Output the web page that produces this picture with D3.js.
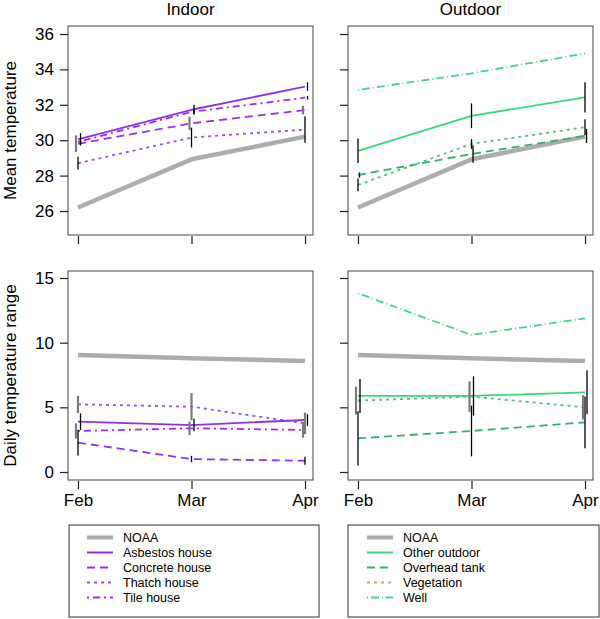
<!DOCTYPE html>
<html>
<head>
<meta charset="utf-8">
<script src="https://cdn.jsdelivr.net/npm/d3@7"></script>
<style>
  body { margin: 0; background: #fff; }
  svg { display: block; font-family: "Liberation Sans", Arial, Helvetica, sans-serif; }
</style>
</head>
<body>
<svg id="chart" width="600" height="619"></svg>
<script>
// ---------------- DATA ----------------
const months = ["Feb", "Mar", "Apr"];
const meanTicks = [26, 28, 30, 32, 34, 36];
const rangeTicks = [0, 5, 10, 15];

const indoorNames = ["NOAA", "Asbestos house", "Concrete house", "Thatch house", "Tile house"];
const outdoorNames = ["NOAA", "Other outdoor", "Overhead tank", "Vegetation", "Well"];

// Mean temperature
const meanNOAA = [26.2, 28.92, 30.2];
const meanAsbestos = [30.05, 31.72, 33.03];
const meanConcrete = [29.8, 30.95, 31.7];
const meanThatch = [28.7, 30.15, 30.6];
const meanTile = [29.9, 31.6, 32.4];
const meanOther = [29.4, 31.38, 32.42];
const meanTank = [28.03, 29.22, 30.24];
const meanVeg = [27.47, 29.79, 30.73];
const meanWell = [32.84, 33.78, 34.9];

// Mean temperature error half-widths
const meanErrAsbestos = [0.35, 0.28, 0.24];
const meanErrConcrete = [0.47, 0.38, 0.24];
const meanErrThatch = [0.36, 0.56, 0.75];
const meanErrTile = [0.1, 0.1, 0.1];
const meanErrOther = [0.69, 0.7, 0.85];
const meanErrTank = [0.15, 0.5, 0.4];
const meanErrVeg = [0.36, 0.28, 0.45];

// Daily temperature range
const rangeNOAA = [9.05, 8.79, 8.58];
const rangeAsbestos = [3.89, 3.63, 4.02];
const rangeConcrete = [2.27, 1.0, 0.87];
const rangeThatch = [5.23, 5.05, 3.76];
const rangeTile = [3.17, 3.38, 3.25];
const rangeOther = [5.88, 5.88, 6.16];
const rangeTank = [2.6, 3.17, 3.84];
const rangeVeg = [5.52, 5.83, 5.0];
const rangeWell = [13.82, 10.6, 11.88];

// Daily range error half-widths
const rangeErrAsbestos = [0.64, 0.48, 0.45];
const rangeErrConcrete = [1.0, 0.25, 0.3];
const rangeErrThatch = [0.67, 1.06, 0.84];
const rangeErrTile = [0.59, 0.52, 0.6];
const rangeErrOther = [1.31, 1.52, 1.7];
const rangeErrTank = [2.1, 1.96, 2.0];
const rangeErrVeg = [1.08, 1.18, 0.94];

// ---------------- STYLES ----------------
const styleOf = {
  "NOAA":           { color: "#adadad", width: 4.5, dash: null },
  "Asbestos house": { color: "#9030ee", width: 1.8, dash: null },
  "Concrete house": { color: "#9a2ff5", width: 1.8, dash: "8,5" },
  "Thatch house":   { color: "#9650f5", width: 1.8, dash: "3,4" },
  "Tile house":     { color: "#a826f5", width: 1.8, dash: "2,4,7,4" },
  "Other outdoor":  { color: "#3bd873", width: 1.8, dash: null },
  "Overhead tank":  { color: "#2fb46a", width: 1.8, dash: "8,5" },
  "Vegetation":     { color: "#4cc47e", width: 1.8, dash: "3,4" },
  "Well":           { color: "#44d686", width: 1.8, dash: "1,3,8,3" }
};
const legendColor = Object.assign({}, Object.fromEntries(Object.entries(styleOf).map(([k, v]) => [k, v.color])), { "Vegetation": "#c4a878" });

const errBlack = { color: "#000", width: 1.3 };
const errGrey = { color: "#7a7a7a", width: 2.2 };

const fontStack = '"Liberation Sans", Arial, Helvetica, sans-serif';

// ---------------- PANELS ----------------
const panels = [
  { x0: 68, x1: 313, y0: 26, y1: 235, xr: [78, 305], dom: [26, 36], rng: [211, 34], ticks: meanTicks, labels: true, xlabels: false,
    series: [
      { name: "NOAA", v: meanNOAA },
      { name: "Thatch house", v: meanThatch, e: meanErrThatch, es: errBlack, off: 0 },
      { name: "Concrete house", v: meanConcrete, e: meanErrConcrete, es: errGrey, off: -2 },
      { name: "Tile house", v: meanTile, e: meanErrTile, es: errBlack, off: 2.5 },
      { name: "Asbestos house", v: meanAsbestos, e: meanErrAsbestos, es: errBlack, off: 2.5 }
    ] },
  { x0: 348, x1: 593, y0: 26, y1: 235, xr: [358, 585], dom: [26, 36], rng: [211, 34], ticks: meanTicks, labels: false, xlabels: false,
    series: [
      { name: "NOAA", v: meanNOAA },
      { name: "Vegetation", v: meanVeg, e: meanErrVeg, es: errBlack, off: 0 },
      { name: "Overhead tank", v: meanTank, e: meanErrTank, es: errBlack, off: 1.5 },
      { name: "Other outdoor", v: meanOther, e: meanErrOther, es: errBlack, off: 0 },
      { name: "Well", v: meanWell }
    ] },
  { x0: 68, x1: 313, y0: 271, y1: 480, xr: [78, 305], dom: [0, 15], rng: [472, 278], ticks: rangeTicks, labels: true, xlabels: true,
    series: [
      { name: "NOAA", v: rangeNOAA },
      { name: "Concrete house", v: rangeConcrete, e: rangeErrConcrete, es: errBlack, off: 0 },
      { name: "Tile house", v: rangeTile, e: rangeErrTile, es: errGrey, off: -2 },
      { name: "Thatch house", v: rangeThatch, e: rangeErrThatch, es: errGrey, off: 0 },
      { name: "Asbestos house", v: rangeAsbestos, e: rangeErrAsbestos, es: errBlack, off: 2.5 }
    ] },
  { x0: 348, x1: 593, y0: 271, y1: 480, xr: [358, 585], dom: [0, 15], rng: [472, 278], ticks: rangeTicks, labels: false, xlabels: true,
    series: [
      { name: "NOAA", v: rangeNOAA },
      { name: "Well", v: rangeWell },
      { name: "Overhead tank", v: rangeTank, e: rangeErrTank, es: errBlack, off: 0 },
      { name: "Vegetation", v: rangeVeg, e: rangeErrVeg, es: errGrey, off: -2 },
      { name: "Other outdoor", v: rangeOther, e: rangeErrOther, es: errBlack, off: 2 }
    ] }
];

const svg = d3.select("#chart");

panels.forEach(p => {
  const x = d3.scalePoint().domain(months).range(p.xr);
  const y = d3.scaleLinear().domain(p.dom).range(p.rng);
  const g = svg.append("g");

  // lines
  const line = d3.line().x((d, i) => x(months[i])).y(d => y(d));
  p.series.forEach(s => {
    const st = styleOf[s.name];
    g.append("path").datum(s.v)
      .attr("d", line)
      .attr("fill", "none")
      .attr("stroke", st.color)
      .attr("stroke-width", st.width)
      .attr("stroke-linejoin", "round")
      .attr("stroke-dasharray", st.dash);
  });
  // error bars
  p.series.forEach(s => {
    if (!s.e) return;
    s.v.forEach((v, i) => {
      g.append("line")
        .attr("x1", x(months[i]) + s.off).attr("x2", x(months[i]) + s.off)
        .attr("y1", y(v - s.e[i])).attr("y2", y(v + s.e[i]))
        .attr("stroke", s.es.color).attr("stroke-width", s.es.width);
    });
  });

  // box
  g.append("rect").attr("x", p.x0).attr("y", p.y0)
    .attr("width", p.x1 - p.x0).attr("height", p.y1 - p.y0)
    .attr("fill", "none").attr("stroke", "#444").attr("stroke-width", 1);

  // y axis
  const yAxis = d3.axisLeft(y).tickValues(p.ticks).tickSize(8).tickPadding(6)
    .tickFormat(p.labels ? d3.format("d") : () => "");
  const ya = g.append("g").attr("transform", `translate(${p.x0},0)`).call(yAxis);
  ya.select(".domain").remove();
  ya.selectAll(".tick line").attr("stroke", "#222").attr("stroke-width", 1.2);
  ya.selectAll("text").attr("font-size", 17).attr("font-family", fontStack).attr("fill", "#000");

  // x axis
  const xAxis = d3.axisBottom(x).tickSize(8).tickPadding(5)
    .tickFormat(p.xlabels ? (d => d) : () => "");
  const xa = g.append("g").attr("transform", `translate(0,${p.y1 + 1})`).call(xAxis);
  xa.select(".domain").remove();
  xa.selectAll(".tick line").attr("stroke", "#222").attr("stroke-width", 1.2);
  xa.selectAll("text").attr("font-size", 17).attr("font-family", fontStack).attr("fill", "#000");
});

// titles
svg.append("text").attr("x", 190.5).attr("y", 15).attr("text-anchor", "middle")
  .attr("font-size", 17).text("Indoor");
svg.append("text").attr("x", 470.5).attr("y", 15).attr("text-anchor", "middle")
  .attr("font-size", 17).text("Outdoor");
svg.append("text").attr("transform", "translate(16,130.5) rotate(-90)").attr("text-anchor", "middle")
  .attr("font-size", 17).text("Mean temperature");
svg.append("text").attr("transform", "translate(16,375.5) rotate(-90)").attr("text-anchor", "middle")
  .attr("font-size", 17).text("Daily temperature range");

// legends
const legends = [
  { x0: 69, x1: 319, names: indoorNames, lx: 87 },
  { x0: 348, x1: 599, names: outdoorNames, lx: 367 }
];
legends.forEach(L => {
  const g = svg.append("g");
  g.append("rect").attr("x", L.x0).attr("y", 525).attr("width", L.x1 - L.x0).attr("height", 92)
    .attr("fill", "#fff").attr("stroke", "#333").attr("stroke-width", 1);
  const ry = d3.scalePoint().domain(L.names).range([537.5, 597.5]);
  L.names.forEach(n => {
    const st = styleOf[n];
    g.append("line").attr("x1", L.lx).attr("x2", L.lx + 26)
      .attr("y1", ry(n)).attr("y2", ry(n))
      .attr("stroke", n === "NOAA" ? "#b0a8a8" : legendColor[n])
      .attr("stroke-width", n === "NOAA" ? 4 : 2)
      .attr("stroke-dasharray", st.dash);
    g.append("text").attr("x", L.lx + 36).attr("y", ry(n) + 4.5)
      .attr("font-size", 12.5).text(n);
  });
});
</script>
</body>
</html>
